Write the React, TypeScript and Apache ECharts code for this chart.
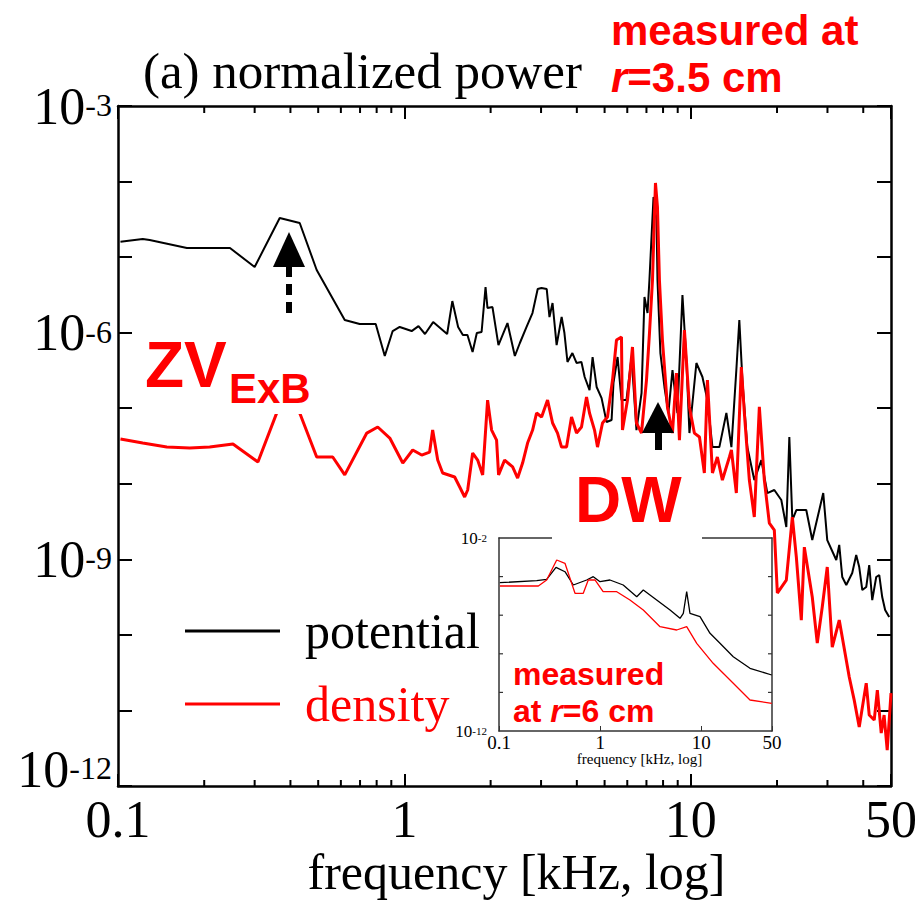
import { useEffect, useRef } from 'react';
import * as echarts from 'echarts';

// ---- main panel (measured at r = 3.5 cm) ----
const potentialFreq = [0.102, 0.122, 0.129, 0.174, 0.246, 0.300, 0.367, 0.431, 0.494, 0.619, 0.698, 0.794, 0.854, 0.910, 0.963, 1.06, 1.12, 1.18, 1.26, 1.41, 1.47, 1.54, 1.60, 1.66, 1.73, 1.79, 1.86, 1.92, 1.95, 2.03, 2.13, 2.29, 2.43, 2.53, 2.67, 2.80, 2.92, 3.01, 3.14, 3.21, 3.29, 3.40, 3.54, 3.62, 3.71, 3.86, 3.99, 4.15, 4.26, 4.43, 4.54, 4.69, 4.88, 5.08, 5.29, 5.37, 5.55, 5.73, 5.96, 6.21, 6.46, 6.73, 6.89, 7.06, 7.17, 7.35, 7.41, 7.59, 7.65, 7.83, 8.09, 8.35, 8.63, 8.98, 9.35, 9.65, 9.89, 10.46, 10.98, 11.43, 11.90, 12.58, 13.31, 13.86, 14.42, 14.77, 15.14, 15.75, 16.66, 17.63, 18.50, 19.57, 20.70, 21.55, 22.08, 22.62, 23.36, 25.30, 26.55, 29.00, 29.95, 32.20, 32.98, 33.79, 34.9, 36.61, 37.8, 38.73, 39.7, 40.97, 41.97, 43.0, 44.40, 45.5, 46.59, 47.7, 49.28];
const potentialPower = [1.60e-5, 1.74e-5, 1.68e-5, 1.32e-5, 1.32e-5, 7.40e-6, 3.29e-5, 2.83e-5, 6.75e-6, 1.47e-6, 1.30e-6, 1.30e-6, 4.91e-7, 1.05e-6, 1.19e-6, 1.05e-6, 1.22e-6, 9.60e-7, 1.38e-6, 9.60e-7, 2.62e-6, 1.19e-6, 9.31e-7, 9.31e-7, 5.54e-7, 9.89e-7, 1.02e-6, 4.02e-6, 2.12e-6, 2.18e-6, 6.86e-7, 1.34e-6, 4.91e-7, 7.30e-7, 1.19e-6, 1.82e-6, 3.78e-6, 3.90e-6, 3.78e-6, 1.61e-6, 2.47e-6, 6.86e-7, 1.61e-6, 9.89e-7, 4.09e-7, 5.38e-7, 3.97e-7, 4.09e-7, 2.59e-7, 1.74e-7, 4.76e-7, 1.91e-7, 1.36e-7, 6.57e-8, 6.98e-8, 2.16e-7, 4.76e-7, 1.28e-7, 1.28e-7, 4.76e-7, 5.14e-8, 1.59e-7, 2.96e-6, 1.82e-6, 4.97e-6, 3.40e-5, 6.25e-5, 3.10e-5, 4.97e-6, 5.38e-7, 1.91e-7, 8.64e-8, 3.20e-7, 8.64e-8, 3.15e-6, 4.35e-7, 4.69e-8, 3.97e-7, 2.59e-7, 1.28e-7, 3.06e-8, 3.06e-8, 8.64e-8, 3.06e-8, 3.20e-7, 1.47e-6, 2.36e-7, 3.06e-8, 1.12e-8, 2.06e-8, 7.54e-9, 8.27e-9, 6.09e-9, 2.68e-9, 4.16e-8, 3.31e-9, 4.49e-9, 4.49e-9, 1.80e-9, 7.54e-9, 1.80e-9, 9.79e-10, 1.55e-9, 5.83e-10, 4.57e-10, 6.59e-10, 1.14e-9, 7.91e-10, 3.92e-10, 4.30e-10, 8.41e-10, 2.89e-10, 5.83e-10, 6.20e-10, 3.17e-10, 2.13e-10, 1.72e-10];

const densityFreq = [0.102, 0.122, 0.148, 0.178, 0.209, 0.252, 0.308, 0.367, 0.431, 0.494, 0.562, 0.619, 0.739, 0.807, 0.889, 0.987, 1.069, 1.149, 1.225, 1.255, 1.307, 1.36, 1.498, 1.56, 1.623, 1.663, 1.731, 1.802, 1.876, 1.952, 2.016, 2.098, 2.132, 2.238, 2.387, 2.485, 2.586, 2.692, 2.803, 2.894, 3.013, 3.161, 3.291, 3.425, 3.537, 3.682, 3.833, 3.99, 4.153, 4.324, 4.429, 4.611, 4.723, 4.917, 5.118, 5.329, 5.501, 5.727, 5.773, 6.011, 6.256, 6.461, 6.726, 7.002, 7.173, 7.348, 7.526, 7.648, 7.77, 7.96, 8.287, 8.627, 8.908, 9.126, 9.5, 9.888, 10.29, 10.72, 11.15, 11.43, 11.9, 12.38, 12.89, 13.64, 13.86, 14.42, 15.01, 15.38, 16.01, 16.66, 17.35, 18.06, 18.8, 19.57, 20.05, 21.55, 22.62, 23.36, 24.31, 24.91, 26.55, 27.64, 28.77, 29.95, 31.18, 32.98, 35.74, 37.2, 38.73, 40.97, 41.97, 43.69, 44.8, 46.22, 47.3, 48.5, 50];
const densityPower = [3.91e-8, 3.46e-8, 3.06e-8, 2.97e-8, 3.06e-8, 3.36e-8, 1.94e-8, 1.10e-7, 8.64e-8, 2.26e-8, 2.26e-8, 1.31e-8, 4.69e-8, 5.64e-8, 4.03e-8, 1.88e-8, 2.80e-8, 2.40e-8, 2.63e-8, 5.14e-8, 2.06e-8, 1.39e-8, 1.23e-8, 9.06e-9, 6.68e-9, 8.27e-9, 2.55e-8, 2.06e-8, 1.31e-8, 1.28e-7, 5.14e-8, 3.79e-8, 1.31e-8, 2.06e-8, 1.67e-8, 1.19e-8, 1.88e-8, 3.46e-8, 5.14e-8, 8.64e-8, 7.65e-8, 1.28e-7, 6.37e-8, 4.69e-8, 3.06e-8, 3.06e-8, 7.65e-8, 4.69e-8, 5.64e-8, 1.41e-7, 8.64e-8, 5.14e-8, 3.06e-8, 6.37e-8, 7.65e-8, 2.36e-7, 7.99e-7, 8.76e-7, 5.14e-8, 1.28e-7, 6.46e-7, 6.37e-8, 4.69e-8, 2.36e-7, 9.89e-7, 4.97e-6, 9.57e-5, 4.60e-5, 4.97e-6, 7.99e-7, 1.04e-7, 4.69e-8, 2.92e-7, 3.79e-8, 1.08e-6, 1.04e-7, 4.69e-8, 4.16e-8, 1.39e-8, 2.36e-7, 1.39e-8, 2.26e-8, 1.12e-8, 2.26e-8, 2.80e-8, 7.54e-9, 3.51e-7, 8.64e-8, 1.12e-8, 3.63e-9, 1.04e-7, 1.12e-8, 3.02e-9, 2.44e-9, 3.58e-10, 5.32e-10, 3.63e-9, 1.07e-9, 1.57e-10, 1.45e-9, 3.17e-10, 7.80e-11, 2.34e-10, 7.91e-10, 6.90e-11, 1.57e-10, 2.77e-11, 1.37e-11, 6.03e-12, 2.30e-11, 8.69e-12, 7.46e-12, 1.86e-11, 5.02e-12, 8.69e-12, 2.99e-12, 1.70e-11];

// ---- inset (measured at r = 6 cm) ----
const insetPotentialFreq = [0.102, 0.236, 0.296, 0.366, 0.449, 0.543, 0.736, 0.855, 0.997, 1.25, 1.69, 2.30, 2.67, 3.62, 4.91, 6.16, 6.64, 7.17, 7.73, 9.71, 12.2, 15.3, 20.7, 30.3, 49.7];
const insetPotentialPower = [4.83e-5, 6.13e-5, 7.24e-5, 3.03e-4, 1.79e-4, 3.67e-5, 6.67e-5, 9.88e-5, 5.44e-5, 6.67e-5, 3.67e-5, 9.10e-6, 2.02e-5, 6.13e-6, 1.86e-6, 6.91e-7, 1.25e-6, 1.65e-5, 1.25e-6, 8.36e-7, 1.15e-7, 3.50e-8, 7.08e-9, 1.77e-9, 7.97e-10];
const insetDensityFreq = [0.102, 0.245, 0.296, 0.372, 0.449, 0.564, 0.681, 0.763, 0.889, 1.07, 1.46, 1.97, 2.67, 3.91, 5.71, 7.17, 9.01, 13.1, 20.7, 30.3, 49.7];
const insetDensityPower = [3.26e-5, 3.26e-5, 6.67e-5, 7.24e-4, 4.89e-4, 1.36e-5, 1.36e-5, 6.67e-5, 6.67e-5, 1.65e-5, 1.65e-5, 6.13e-6, 1.86e-6, 2.54e-7, 1.71e-7, 2.54e-7, 3.50e-8, 3.22e-9, 2.96e-10, 4.04e-11, 2.72e-11];

// ---- axis ranges and tick positions ----
const FREQ_MIN = 0.1;
const FREQ_MAX = 50;
const POWER_MIN = 1e-12;
const POWER_MAX = 1e-3;
const INSET_POWER_MIN = 1e-12;
const INSET_POWER_MAX = 1e-2;
const minorTickFreqs = [0.2, 0.3, 0.4, 0.5, 0.6, 0.7, 0.8, 0.9, 2, 3, 4, 5, 6, 7, 8, 9, 20, 30, 40];
const insetPowerTicks = [1e-10, 1e-8, 1e-6, 1e-4];
const mainPowerLabelExponents = [-3, -6, -9, -12];
const insetPowerLabelExponents = [-2, -12];

const SERIF = 'Liberation Serif';
const SANS = 'Liberation Sans';
const RED = '#ff0000';

const zip = (a: number[], b: number[]) => a.map((x, i) => [x, b[i]]);
const fmtFreq = (v: number) => String(parseFloat(Number(v).toPrecision(3)));
const powLabel = (allowed: number[]) => (v: number) => {
  const e = Math.round(Math.log10(v));
  return allowed.includes(e) ? `{b|10}{s|${e}}` : '';
};

function buildOption(): any {
  const frameLine = { lineStyle: { color: '#000', width: 2.5 } };
  const insetLine = { lineStyle: { color: '#333', width: 1.5 } };
  return {
    animation: false,
    backgroundColor: '#fff',
    grid: [
      { left: 118, top: 106, right: 26, bottom: 116, outerBoundsMode: 'none', containLabel: false },
      { left: 499, top: 538, right: 145, bottom: 171, outerBoundsMode: 'none', containLabel: false, z: 3 },
    ],
    legend: {
      orient: 'vertical',
      left: 185,
      top: 606,
      padding: 0,
      itemGap: 23,
      itemWidth: 95,
      itemHeight: 3,
      icon: 'rect',
      textStyle: { fontFamily: SERIF, fontSize: 50, padding: [0, 0, 0, 20] },
      data: [
        { name: 'potential', textStyle: { color: '#000' } },
        { name: 'density', textStyle: { color: RED } },
      ],
    },
    xAxis: [
      {
        type: 'log', gridIndex: 0, position: 'bottom', logBase: 10, min: FREQ_MIN, max: FREQ_MAX,
        axisLine: frameLine,
        axisTick: { inside: true, length: 12, lineStyle: { color: '#000', width: 2 } },
        axisLabel: { formatter: fmtFreq, fontFamily: SERIF, fontSize: 52, lineHeight: 22, color: '#000', margin: 22, showMinLabel: true, showMaxLabel: true },
        splitLine: { show: false },
        name: 'frequency [kHz, log]', nameLocation: 'middle', nameGap: 61, nameMoveOverlap: false,
        nameTextStyle: { fontFamily: SERIF, fontSize: 50, color: '#000', padding: [0, 0, 0, 24] },
      },
      {
        type: 'log', gridIndex: 0, position: 'top', logBase: 10, min: FREQ_MIN, max: FREQ_MAX,
        axisLine: frameLine,
        axisTick: { inside: true, length: 13, lineStyle: { color: '#000', width: 2 } },
        axisLabel: { show: false }, splitLine: { show: false },
      },
      {
        type: 'log', gridIndex: 1, position: 'bottom', logBase: 10, min: FREQ_MIN, max: FREQ_MAX,
        axisLine: insetLine,
        axisTick: { inside: true, length: 5, lineStyle: { color: '#333', width: 1 } },
        axisLabel: { formatter: fmtFreq, fontFamily: SERIF, fontSize: 19, lineHeight: 16, color: '#000', margin: 3, showMinLabel: true, showMaxLabel: true },
        splitLine: { show: false },
        name: 'frequency [kHz, log]', nameLocation: 'middle', nameGap: 21, nameMoveOverlap: false,
        nameTextStyle: { fontFamily: SERIF, fontSize: 15, lineHeight: 14, color: '#000', padding: [0, 0, 0, 8] },
      },
      {
        type: 'log', gridIndex: 1, position: 'top', logBase: 10, min: FREQ_MIN, max: FREQ_MAX,
        axisLine: insetLine, axisTick: { show: false }, axisLabel: { show: false }, splitLine: { show: false },
      },
    ],
    yAxis: [
      {
        type: 'log', gridIndex: 0, position: 'left', logBase: 10, min: POWER_MIN, max: POWER_MAX, splitNumber: 9,
        axisLine: frameLine,
        axisTick: { inside: true, length: 14, lineStyle: { color: '#000', width: 2 } },
        axisLabel: {
          formatter: powLabel(mainPowerLabelExponents), margin: 6, showMinLabel: true, showMaxLabel: true,
          verticalAlignMinLabel: 'bottom',
          rich: {
            b: { fontFamily: SERIF, fontSize: 52, lineHeight: 34, color: '#000' },
            s: { fontFamily: SERIF, fontSize: 32, lineHeight: 2, color: '#000', verticalAlign: 'top' },
          },
        },
        splitLine: { show: false },
      },
      {
        type: 'log', gridIndex: 0, position: 'right', logBase: 10, min: POWER_MIN, max: POWER_MAX, splitNumber: 9,
        axisLine: frameLine,
        axisTick: { inside: true, length: 14, lineStyle: { color: '#000', width: 2 } },
        axisLabel: { show: false }, splitLine: { show: false },
      },
      {
        type: 'log', gridIndex: 1, position: 'left', logBase: 10, min: INSET_POWER_MIN, max: INSET_POWER_MAX,
        axisLine: insetLine, axisTick: { show: false },
        axisLabel: {
          formatter: powLabel(insetPowerLabelExponents), margin: 12, showMinLabel: true, showMaxLabel: true,
          rich: {
            b: { fontFamily: SERIF, fontSize: 17, lineHeight: 12, color: '#000' },
            s: { fontFamily: SERIF, fontSize: 11, lineHeight: 2, color: '#000', verticalAlign: 'top' },
          },
        },
        splitLine: { show: false },
      },
      {
        type: 'log', gridIndex: 1, position: 'right', logBase: 10, min: INSET_POWER_MIN, max: INSET_POWER_MAX,
        axisLine: insetLine, axisTick: { show: false }, axisLabel: { show: false }, splitLine: { show: false },
      },
    ],
    series: [
      {
        name: 'potential', type: 'line', xAxisIndex: 0, yAxisIndex: 0, data: zip(potentialFreq, potentialPower),
        symbol: 'none', showSymbol: false, color: '#000', lineStyle: { color: '#000', width: 2 }, z: 3,
      },
      {
        name: 'density', type: 'line', xAxisIndex: 0, yAxisIndex: 0, data: zip(densityFreq, densityPower),
        symbol: 'none', showSymbol: false, color: RED, lineStyle: { color: RED, width: 3 }, z: 4,
      },
      {
        name: 'potential (r=6 cm)', type: 'line', xAxisIndex: 2, yAxisIndex: 2, data: zip(insetPotentialFreq, insetPotentialPower),
        symbol: 'none', showSymbol: false, color: '#000', lineStyle: { color: '#000', width: 1.3 }, z: 5,
      },
      {
        name: 'density (r=6 cm)', type: 'line', xAxisIndex: 2, yAxisIndex: 2, data: zip(insetDensityFreq, insetDensityPower),
        symbol: 'none', showSymbol: false, color: RED, lineStyle: { color: RED, width: 1.3 }, z: 5,
      },
      {
        name: 'minor ticks', type: 'custom', xAxisIndex: 0, yAxisIndex: 0, silent: true, clip: false, z: 6,
        data: minorTickFreqs.map((f) => [f, POWER_MIN]),
        renderItem: (_p: any, api: any) => {
          const f = api.value(0);
          const b = api.coord([f, POWER_MIN]);
          const t = api.coord([f, POWER_MAX]);
          const st = { stroke: '#000', lineWidth: 2 };
          return {
            type: 'group',
            children: [
              { type: 'line', shape: { x1: b[0], y1: b[1], x2: b[0], y2: b[1] - 6 }, style: st },
              { type: 'line', shape: { x1: t[0], y1: t[1], x2: t[0], y2: t[1] + 7 }, style: st },
            ],
          };
        },
      },
      {
        name: 'inset ticks', type: 'custom', xAxisIndex: 2, yAxisIndex: 2, silent: true, clip: false, z: 6,
        data: insetPowerTicks.map((p) => [FREQ_MIN, p]),
        renderItem: (_p: any, api: any) => {
          const p = api.value(1);
          const l = api.coord([FREQ_MIN, p]);
          const r = api.coord([FREQ_MAX, p]);
          const st = { stroke: '#333', lineWidth: 1.2 };
          return {
            type: 'group',
            children: [
              { type: 'line', shape: { x1: l[0], y1: l[1], x2: l[0] + 4, y2: l[1] }, style: st },
              { type: 'line', shape: { x1: r[0], y1: r[1], x2: r[0] - 4, y2: r[1] }, style: st },
            ],
          };
        },
      },
    ],
    graphic: {
      elements: [
        { type: 'text', x: 143, y: 71, z: 50, style: { text: '(a) normalized power', fontFamily: SERIF, fontSize: 51, fill: '#000', verticalAlign: 'middle' } },
        { type: 'text', x: 611, y: 30, z: 50, style: { text: 'measured at', fontFamily: SANS, fontWeight: 'bold', fontSize: 42, fill: RED, verticalAlign: 'middle' } },
        {
          type: 'text', x: 611, y: 77, z: 50,
          style: {
            text: '{i|r}{n|=3.5 cm}', verticalAlign: 'middle',
            rich: {
              i: { fontFamily: SANS, fontWeight: 'bold', fontStyle: 'italic', fontSize: 42, fill: RED, color: RED },
              n: { fontFamily: SANS, fontWeight: 'bold', fontSize: 42, fill: RED, color: RED },
            },
          },
        },
        // ZV ExB annotation
        { type: 'rect', z: 49, shape: { x: 228, y: 368, width: 84, height: 46 }, style: { fill: '#fff' } },
        { type: 'text', x: 145, y: 365, z: 50, style: { text: 'ZV', fontFamily: SANS, fontWeight: 'bold', fontSize: 64, fill: RED, verticalAlign: 'middle' } },
        { type: 'text', x: 229, y: 388, z: 50, style: { text: 'ExB', fontFamily: SANS, fontWeight: 'bold', fontSize: 42, fill: RED, verticalAlign: 'middle' } },
        // DW annotation
        { type: 'rect', z: 49, shape: { x: 552, y: 468, width: 150, height: 74 }, style: { fill: '#fff' } },
        { type: 'text', x: 575, y: 500, z: 50, style: { text: 'DW', fontFamily: SANS, fontWeight: 'bold', fontSize: 64, fill: RED, verticalAlign: 'middle' } },
        // inset note
        { type: 'text', x: 513, y: 674, z: 50, style: { text: 'measured', fontFamily: SANS, fontWeight: 'bold', fontSize: 32, fill: RED, verticalAlign: 'middle' } },
        {
          type: 'text', x: 513, y: 711, z: 50,
          style: {
            text: '{n|at }{i|r}{n|=6 cm}', verticalAlign: 'middle',
            rich: {
              i: { fontFamily: SANS, fontWeight: 'bold', fontStyle: 'italic', fontSize: 32, fill: RED, color: RED },
              n: { fontFamily: SANS, fontWeight: 'bold', fontSize: 32, fill: RED, color: RED },
            },
          },
        },
        // dashed arrow (ZV)
        { type: 'polygon', z: 50, shape: { points: [[273, 267], [289, 232], [305, 267]] }, style: { fill: '#000' } },
        { type: 'line', z: 50, shape: { x1: 289, y1: 266, x2: 289, y2: 315 }, style: { stroke: '#000', lineWidth: 6, lineDash: [11, 7] } },
        // solid arrow (DW)
        { type: 'polygon', z: 50, shape: { points: [[642, 433], [658, 402], [674, 433]] }, style: { fill: '#000' } },
        { type: 'rect', z: 50, shape: { x: 655, y: 432, width: 7, height: 18 }, style: { fill: '#000' } },
      ],
    },
  };
}

export default function App() {
  const ref = useRef<HTMLDivElement>(null);
  useEffect(() => {
    if (!ref.current) return;
    const chart = echarts.init(ref.current, null, { renderer: 'svg' });
    chart.setOption(buildOption());
    return () => chart.dispose();
  }, []);
  return (
    <div
      ref={ref}
      style={{ position: 'absolute', left: 0, top: 0, width: 917, height: 902, background: '#fff' }}
    />
  );
}
